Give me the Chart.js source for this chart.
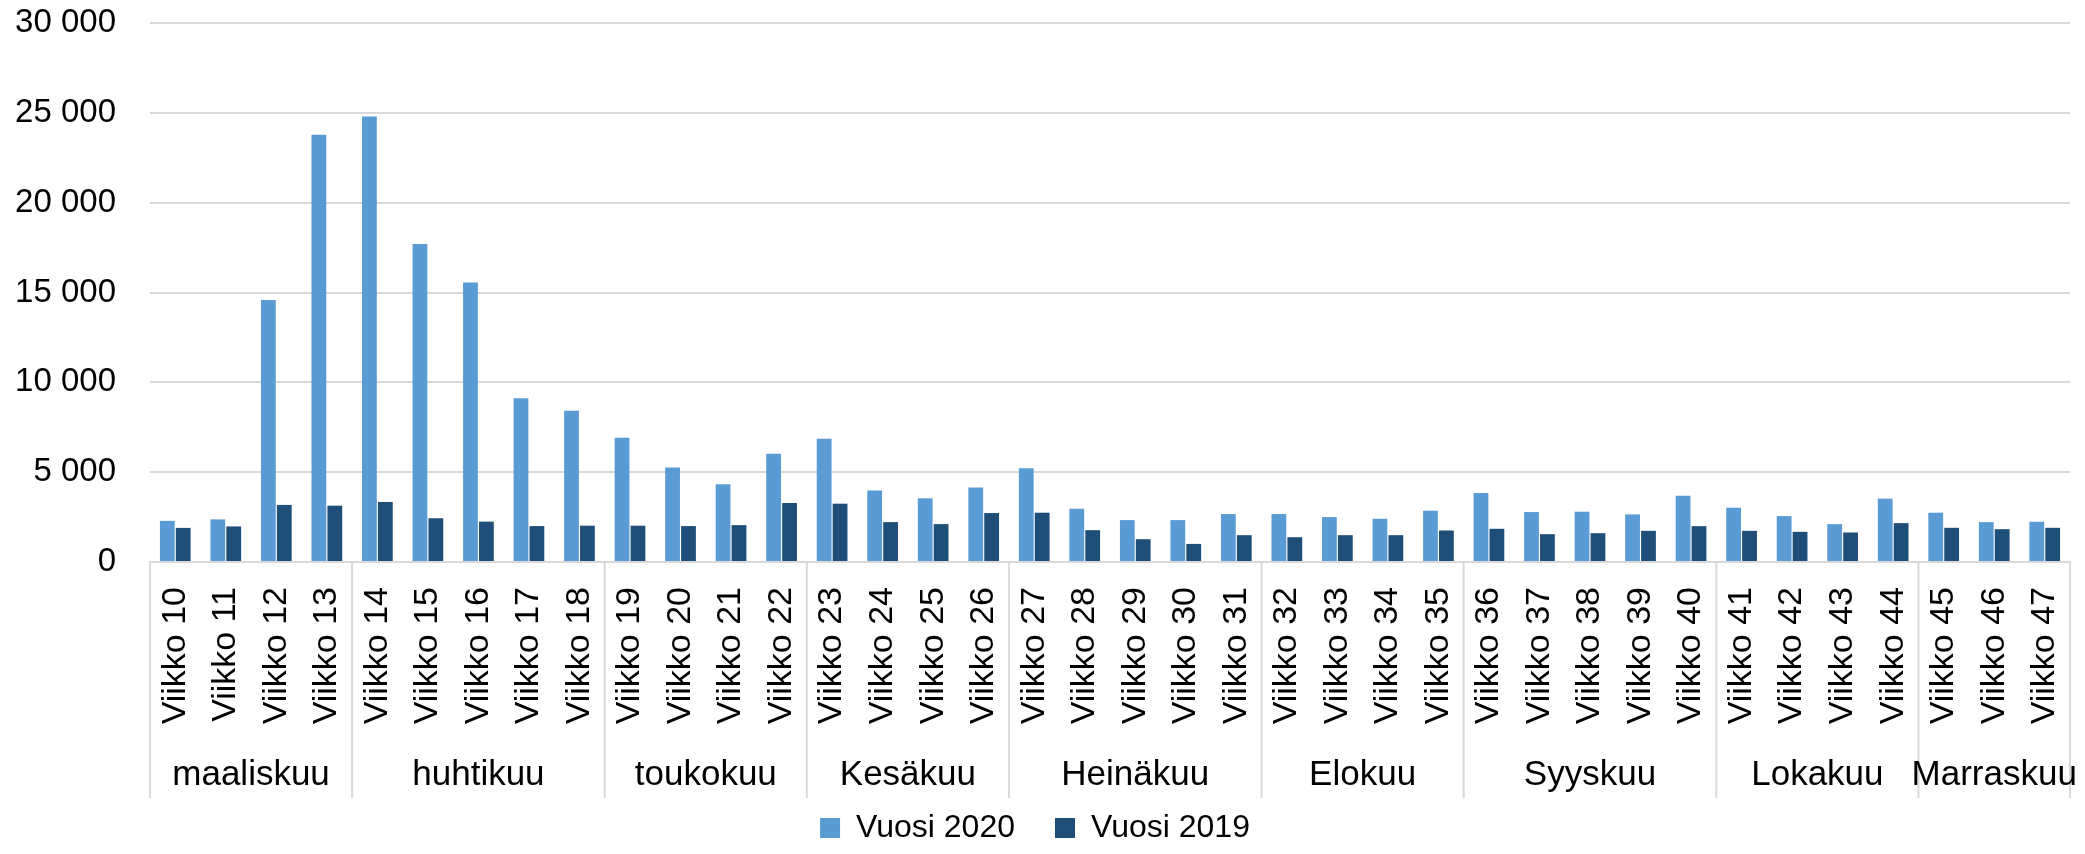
<!DOCTYPE html>
<html>
<head>
<meta charset="utf-8">
<script src="https://cdn.jsdelivr.net/npm/chart.js@4"></script>
<style>
  body { margin: 0; background: #fff; }
  #wrap { width: 2085px; height: 854px; }
</style>
</head>
<body>
<div id="wrap"><canvas id="chart"></canvas></div>
<script>
const weeks = [];
for (let w = 10; w <= 47; w++) weeks.push('Viikko ' + w);

const months = ['maaliskuu', 'huhtikuu', 'toukokuu', 'Kesäkuu', 'Heinäkuu', 'Elokuu', 'Syyskuu', 'Lokakuu', 'Marraskuu'];
const monthWeeks = [4, 5, 4, 4, 5, 4, 5, 4, 3];

const vuosi2020 = [2290, 2372, 14583, 23783, 24794, 17698, 15553, 9117, 8416, 6910,
  5260, 4328, 6026, 6866, 3974, 3545, 4142, 5224, 2966, 2332,
  2332, 2668, 2668, 2500, 2407, 2854, 3843, 2780, 2799, 2649,
  3694, 3022, 2556, 2108, 3526, 2743, 2220, 2239];
const vuosi2019 = [1898, 1980, 3177, 3135, 3342, 2434, 2248, 2000, 2021, 2021,
  2000, 2052, 3284, 3246, 2220, 2108, 2724, 2743, 1772, 1269,
  1007, 1493, 1380, 1493, 1493, 1754, 1847, 1549, 1604, 1735,
  1996, 1735, 1679, 1642, 2164, 1903, 1828, 1903];

const yTicks = [0, 5000, 10000, 15000, 20000, 25000, 30000];

const fmt = v => String(v).replace(/\B(?=(\d{3})+(?!\d))/g, ' ');

// month groups under the week labels
const monthGroups = {
  id: 'monthGroups',
  afterDraw(chart) {
    const x = chart.scales.x;
    const c = chart.ctx;
    const step = x.width / weeks.length;
    const top = chart.chartArea.bottom;
    c.save();
    c.strokeStyle = '#d9d9d9';
    c.lineWidth = 2;
    c.fillStyle = '#000';
    c.font = '35px "Liberation Sans", Arial, sans-serif';
    c.textAlign = 'center';
    c.textBaseline = 'middle';
    let idx = 0;
    const line = px => { c.beginPath(); c.moveTo(px, top); c.lineTo(px, 798); c.stroke(); };
    line(x.left);
    months.forEach((m, i) => {
      const start = x.getPixelForValue(idx) - step / 2;
      idx += monthWeeks[i];
      const end = x.getPixelForValue(idx - 1) + step / 2;
      line(end);
      c.fillText(m, (start + end) / 2, 775);
    });
    c.restore();
  }
};

const ctx = document.querySelector('#chart').getContext('2d');

new Chart(ctx, {
  type: 'bar',
  data: {
    labels: weeks,
    datasets: [{
      label: 'Vuosi 2020',
      data: vuosi2020,
      backgroundColor: '#5B9BD5',
      categoryPercentage: 0.63,
      barPercentage: 0.93
    }, {
      label: 'Vuosi 2019',
      data: vuosi2019,
      backgroundColor: '#1F4E79',
      categoryPercentage: 0.63,
      barPercentage: 0.93
    }]
  },
  options: {
    responsive: true,
    maintainAspectRatio: false,
    animation: false,
    layout: { padding: { top: 23, right: 15, left: 0, bottom: 0 } },
    scales: {
      y: {
        min: 0,
        max: 30000,
        afterBuildTicks: s => { s.ticks = yTicks.map(v => ({ value: v })); },
        afterFit: s => { s.width = 150; s.paddingTop = 0; s.paddingBottom = 0; },
        grid: { color: '#d9d9d9', lineWidth: 2, drawTicks: false },
        border: { display: false },
        ticks: {
          padding: 34,
          color: '#000',
          font: { family: '"Liberation Sans", Arial, sans-serif', size: 33 },
          callback: v => fmt(v)
        }
      },
      x: {
        afterFit: s => { s.height = 210; s.paddingLeft = 0; s.paddingRight = 0; },
        grid: { display: false, drawTicks: false },
        border: { color: '#d9d9d9', width: 2 },
        ticks: {
          autoSkip: false,
          minRotation: 90,
          maxRotation: 90,
          padding: 25,
          color: '#000',
          font: { family: '"Liberation Sans", Arial, sans-serif', size: 34 }
        }
      }
    },
    plugins: {
      legend: {
        position: 'bottom',
        labels: {
          boxWidth: 20,
          boxHeight: 20,
          padding: 40,
          color: '#000',
          font: { family: '"Liberation Sans", Arial, sans-serif', size: 32 }
        }
      },
      tooltip: { enabled: false }
    }
  },
  plugins: [monthGroups]
});
</script>
</body>
</html>
